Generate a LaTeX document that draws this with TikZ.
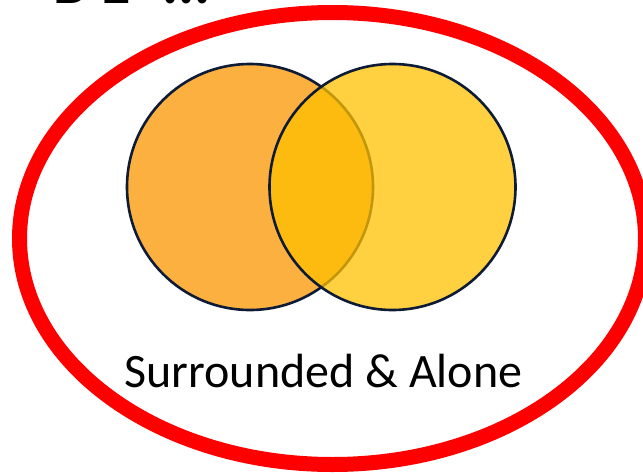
\documentclass[tikz,border=0pt]{standalone}
\usepackage{fontspec}
\setmainfont{Carlito}
\usetikzlibrary{positioning}
\definecolor{vennorange}{HTML}{FBB040}
\definecolor{venngold}{HTML}{FFC000}
\definecolor{vennink}{HTML}{0D1B36}
\definecolor{ringred}{HTML}{FF0000}
\tikzset{
  setl/.style={circle, draw=vennink, line width=2.6pt, fill=vennorange, minimum size=246pt, inner sep=0pt},
  setr/.style={circle, draw=vennink, line width=2.6pt, fill=venngold, fill opacity=0.75, draw opacity=1, minimum size=246pt, inner sep=0pt},
  ring/.style={draw=ringred, line width=15pt},
  caption/.style={font=\fontsize{48}{58}\selectfont, text=black, inner sep=0pt},
  headtext/.style={font=\fontsize{60}{70}\selectfont\bfseries, text=black, inner sep=0pt, anchor=base west},
}
\begin{document}
\begin{tikzpicture}[x=1pt,y=-1pt]
  \useasboundingbox (0,0) rectangle (643,474);
  \clip (0,0) rectangle (643,474);
  % cut-off heading at the top edge
  \node[headtext] (head) at (53,3) {\llap{O\hspace{46pt}}\makebox[48pt][l]{B}\makebox[61pt][l]{E}...};
  % red ring round the whole diagram
  \draw[ring] (332.5,238.5) ellipse [x radius=313, y radius=226];
  % two overlapping sets
  \node[setl] (lset) at (250,187) {};
  \node[setr] (rset) at (392.5,187) {};
  \node[caption, anchor=base] (label) at (323.5,387) {Surrounded \& Alone};
\end{tikzpicture}
\end{document}
